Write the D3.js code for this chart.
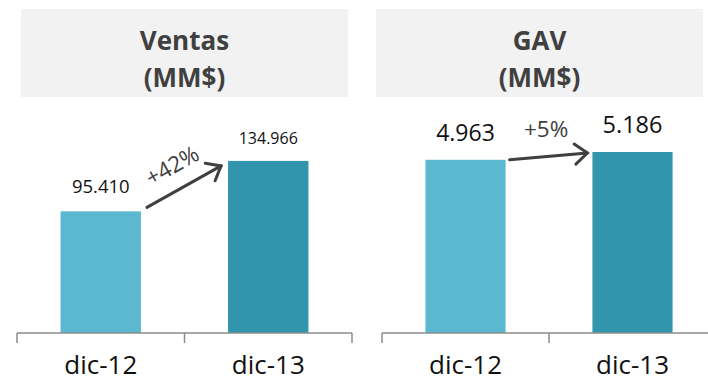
<!DOCTYPE html>
<html>
<head>
<meta charset="utf-8">
<script src="https://cdn.jsdelivr.net/npm/d3@7/dist/d3.min.js"></script>
<style>
  html, body { margin: 0; padding: 0; background: #ffffff; }
  svg { display: block; }
  text { font-family: "Open Sans", "DejaVu Sans", sans-serif; }
</style>
</head>
<body>
<svg id="chart" width="708" height="382"></svg>
<script>
// Periods shown on the x axis
const periods = ["dic-12", "dic-13"];

// Ventas (MM$)
const ventasValues = [95.410, 134.966];
const ventasLabels = ["95.410", "134.966"];
const ventasGrowth = "+42%";

// GAV (MM$)
const gavValues = [4.963, 5.186];
const gavLabels = ["4.963", "5.186"];
const gavGrowth = "+5%";

const panelTitles = [["Ventas", "(MM$)"], ["GAV", "(MM$)"]];

const barColors = ["#5bb8d0", "#3196ad"];
const inkDark = "#404040";

const svg = d3.select("#chart");
const baseline = 333;

const panels = [
  {
    title: panelTitles[0], values: ventasValues, labels: ventasLabels, growth: ventasGrowth,
    header: [21, 9, 327, 88], xRange: [17, 352], yMax: 160, yTop: 129,
    labelSizes: [18.5, 16], labelGap: [18, 17],
    arrowStart: [6, -4], arrowEnd: [-7, 5], growthOffset: 24, growthRotate: true
  },
  {
    title: panelTitles[1], values: gavValues, labels: gavLabels, growth: gavGrowth,
    header: [376, 9, 327, 88], xRange: [382, 716], yMax: 6, yTop: 123.6,
    labelSizes: [23, 23.5], labelGap: [19, 19],
    arrowStart: [4, 0], arrowEnd: [-5, 1], growthOffset: 27, growthRotate: false
  }
];

panels.forEach(p => {
  const g = svg.append("g");

  // Header box with the two-line title
  g.append("rect")
    .attr("x", p.header[0]).attr("y", p.header[1])
    .attr("width", p.header[2]).attr("height", p.header[3])
    .attr("fill", "#f2f2f2");
  const cx = p.header[0] + p.header[2] / 2;
  g.selectAll("text.title")
    .data(p.title)
    .join("text")
    .attr("class", "title")
    .attr("x", cx)
    .attr("y", (d, i) => 50 + i * 37)
    .attr("text-anchor", "middle")
    .attr("font-size", 26)
    .attr("font-weight", 700)
    .attr("fill", inkDark)
    .text(d => d);

  // Scales
  const x = d3.scaleBand().domain(periods).range(p.xRange).padding(0);
  const y = d3.scaleLinear().domain([0, p.yMax]).range([baseline, p.yTop]);
  const barW = x.bandwidth() * 0.48;
  const barX = d => x(d) + (x.bandwidth() - barW) / 2;

  // Bars
  g.selectAll("rect.bar")
    .data(periods)
    .join("rect")
    .attr("class", "bar")
    .attr("x", d => barX(d))
    .attr("width", barW)
    .attr("y", (d, i) => y(p.values[i]))
    .attr("height", (d, i) => baseline - y(p.values[i]))
    .attr("fill", (d, i) => barColors[i]);

  // Value labels
  g.selectAll("text.value")
    .data(periods)
    .join("text")
    .attr("class", "value")
    .attr("x", d => x(d) + x.bandwidth() / 2)
    .attr("y", (d, i) => y(p.values[i]) - p.labelGap[i])
    .attr("text-anchor", "middle")
    .attr("font-size", (d, i) => p.labelSizes[i])
    .attr("fill", "#111")
    .text((d, i) => p.labels[i]);

  // Category axis: baseline with boundary ticks
  const edges = periods.map(d => x(d)).concat([x(periods[periods.length - 1]) + x.bandwidth()]);
  const axis = g.append("g").attr("stroke", "#8c8c8c").attr("stroke-width", 1.5);
  axis.append("line")
    .attr("x1", p.xRange[0]).attr("x2", p.xRange[1])
    .attr("y1", baseline).attr("y2", baseline);
  axis.selectAll("line.tick")
    .data(edges)
    .join("line")
    .attr("class", "tick")
    .attr("x1", d => d).attr("x2", d => d)
    .attr("y1", baseline).attr("y2", baseline + 10);
  g.selectAll("text.cat")
    .data(periods)
    .join("text")
    .attr("class", "cat")
    .attr("x", d => x(d) + x.bandwidth() / 2)
    .attr("y", 373.5)
    .attr("text-anchor", "middle")
    .attr("font-size", 26)
    .attr("fill", "#111")
    .text(d => d);

  // Growth arrow between the bars
  const x0 = barX(periods[0]) + barW + p.arrowStart[0];
  const y0 = y(p.values[0]) + p.arrowStart[1];
  const x1 = barX(periods[1]) + p.arrowEnd[0];
  const y1 = y(p.values[1]) + p.arrowEnd[1];
  const ang = Math.atan2(y1 - y0, x1 - x0);
  const head = 16, spread = 0.68;
  const hx = a => x1 - head * Math.cos(ang + a);
  const hy = a => y1 - head * Math.sin(ang + a);
  const arrow = g.append("g")
    .attr("fill", "none")
    .attr("stroke", inkDark)
    .attr("stroke-width", 3)
    .attr("stroke-linecap", "round")
    .attr("stroke-linejoin", "miter");
  arrow.append("path").attr("d", d3.line()([[x0, y0], [x1, y1]]));
  arrow.append("path").attr("d", d3.line()([[hx(spread), hy(spread)], [x1, y1], [hx(-spread), hy(-spread)]]));

  const mx = (x0 + x1) / 2, my = (y0 + y1) / 2;
  const nx = Math.sin(ang), ny = -Math.cos(ang);
  const tx = mx + nx * p.growthOffset, ty = my + ny * p.growthOffset;
  const deg = p.growthRotate ? ang * 180 / Math.PI : 0;
  g.append("text")
    .attr("transform", `translate(${tx},${ty}) rotate(${deg})`)
    .attr("text-anchor", "middle")
    .attr("dy", "0.35em")
    .attr("font-size", 22.5)
    .attr("fill", inkDark)
    .text(p.growth);
});
</script>
</body>
</html>
